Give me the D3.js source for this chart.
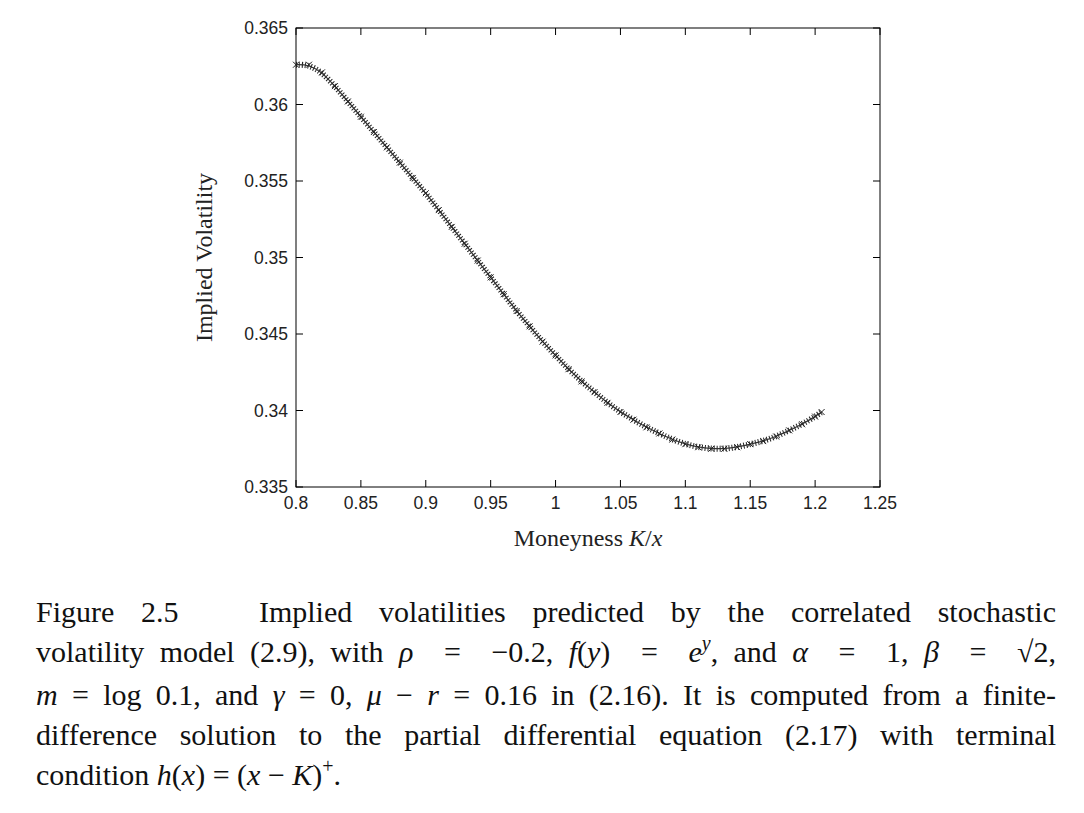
<!DOCTYPE html>
<html><head><meta charset="utf-8">
<script src="https://cdn.jsdelivr.net/npm/d3@7"></script>
<style>
body{margin:0;background:#fff;}
.cap{position:absolute;left:36px;top:592px;width:1020px;font-family:"Liberation Serif",serif;font-size:30px;line-height:40px;color:#111;}
.cap div{text-align:justify;text-align-last:justify;white-space:nowrap;}
.cap div.last{text-align-last:left;}
.cap i{font-style:italic;}
.s{font-size:20px;position:relative;top:-12px;}
</style></head>
<body>
<div class="cap">
<div>Figure 2.5&nbsp;&nbsp; Implied volatilities predicted by the correlated stochastic</div>
<div>volatility model (2.9), with <i>ρ</i> &nbsp;= &nbsp;−0.2, <i>f</i>(<i>y</i>) &nbsp;= &nbsp;<i>e</i><span class="s"><i>y</i></span>, and <i>α</i> &nbsp;= &nbsp;1, <i>β</i> &nbsp;= &nbsp;√2,</div>
<div><i>m</i> = log 0.1, and <i>γ</i> = 0, <i>μ</i> − <i>r</i> = 0.16 in (2.16). It is computed from a finite-</div>
<div>difference solution to the partial differential equation (2.17) with terminal</div>
<div class="last">condition <i>h</i>(<i>x</i>) = (<i>x</i> − <i>K</i>)<span class="s">+</span>.</div>
</div>
<script>
const moneyness = [0.80,0.81,0.82,0.83,0.84,0.85,0.86,0.87,0.88,0.89,0.90,0.91,0.92,0.93,0.94,0.95,0.96,0.97,0.98,0.99,1.00,1.01,1.02,1.03,1.04,1.05,1.06,1.07,1.08,1.09,1.10,1.11,1.12,1.13,1.14,1.15,1.16,1.17,1.18,1.19,1.20,1.205];
const impliedVol = [0.3626,0.3626,0.3621,0.3612,0.3602,0.3592,0.3582,0.3572,0.3562,0.3552,0.3542,0.3531,0.3520,0.3509,0.3498,0.3487,0.3476,0.3465,0.3455,0.3445,0.3436,0.3427,0.3419,0.3412,0.3405,0.3399,0.3394,0.3389,0.3385,0.3381,0.3378,0.3376,0.3375,0.3375,0.3376,0.3378,0.3380,0.3383,0.3387,0.3391,0.3396,0.3399];
const xTicks = [0.8,0.85,0.9,0.95,1,1.05,1.1,1.15,1.2,1.25];
const yTicks = [0.335,0.34,0.345,0.35,0.355,0.36,0.365];
const data = moneyness.map((m,i)=>({m, v: impliedVol[i]}));

const L=296,T=28,W=584,H=459;
const svg = d3.select('body').append('svg').attr('width',1084).attr('height',590)
  .style('position','absolute').style('left',0).style('top',0);
const x = d3.scaleLinear().domain([0.8,1.25]).range([L,L+W]);
const y = d3.scaleLinear().domain([0.335,0.365]).range([T+H,T]);

svg.append('rect').attr('x',L).attr('y',T).attr('width',W).attr('height',H)
  .attr('fill','none').attr('stroke','#000').attr('stroke-width',1);

const fmt = d=>String(d);
const tickFont = s=>s.attr('font-family','Liberation Sans, Arial, sans-serif').attr('font-size',17.5).attr('fill','#222');
xTicks.forEach(t=>{
  svg.append('line').attr('x1',x(t)).attr('x2',x(t)).attr('y1',T+H).attr('y2',T+H-7).attr('stroke','#000');
  svg.append('line').attr('x1',x(t)).attr('x2',x(t)).attr('y1',T).attr('y2',T+7).attr('stroke','#000');
  svg.append('text').attr('x',x(t)).attr('y',T+H+22).attr('text-anchor','middle').text(fmt(t)).call(tickFont);
});
yTicks.forEach(t=>{
  svg.append('line').attr('x1',L).attr('x2',L+7).attr('y1',y(t)).attr('y2',y(t)).attr('stroke','#000');
  svg.append('line').attr('x1',L+W).attr('x2',L+W-7).attr('y1',y(t)).attr('y2',y(t)).attr('stroke','#000');
  svg.append('text').attr('x',L-8).attr('y',y(t)+6).attr('text-anchor','end').text(fmt(t)).call(tickFont);
});

svg.append('text').attr('x',L+W/2).attr('y',546).attr('text-anchor','middle')
  .attr('font-family','Liberation Serif, serif').attr('font-size',24).attr('fill','#222')
  .html('Moneyness <tspan font-style="italic">K</tspan>/<tspan font-style="italic">x</tspan>');
svg.append('text').attr('transform',`translate(212,${T+H/2}) rotate(-90)`).attr('text-anchor','middle')
  .attr('font-family','Liberation Serif, serif').attr('font-size',24).attr('fill','#222')
  .text('Implied Volatility');

const line = d3.line().x(d=>x(d.m)).y(d=>y(d.v)).curve(d3.curveBasis);
svg.append('path').datum(data).attr('d',line).attr('fill','none').attr('stroke','#222').attr('stroke-width',6).attr('stroke-dasharray','1 2');
svg.append('path').datum(data).attr('d',line).attr('fill','none').attr('stroke','#333').attr('stroke-width',1.2);
svg.selectAll('.pt').data(data).enter().append('path')
  .attr('d',d=>{const cx=x(d.m),cy=y(d.v),r=3;return `M${cx-r},${cy-r}L${cx+r},${cy+r}M${cx-r},${cy+r}L${cx+r},${cy-r}`;})
  .attr('stroke','#222').attr('stroke-width',1);
</script>
</body></html>
